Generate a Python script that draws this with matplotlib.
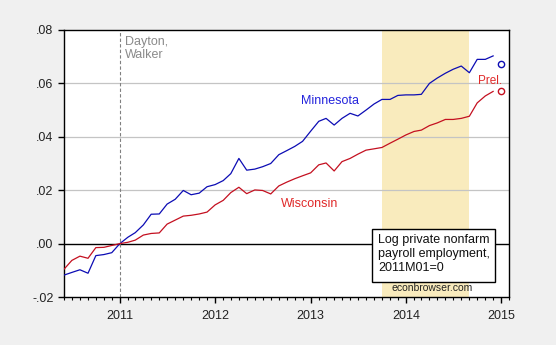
import numpy as np
import pandas as pd
import matplotlib
matplotlib.use("Agg")
import matplotlib.pyplot as plt
import matplotlib.dates as mdates
from matplotlib.patches import Rectangle
from matplotlib.ticker import FuncFormatter

plt.rcParams["font.family"] = ["Liberation Sans", "DejaVu Sans"]

# monthly, 2010M06 .. 2014M12 ; log employment relative to 2011M01
months = pd.date_range("2010-06-01", "2014-12-01", freq="MS")
minnesota = [
    -0.0118, -0.0108, -0.0098, -0.0111, -0.0045, -0.0041, -0.0034, 0.0000,
    0.0024, 0.0041, 0.0070, 0.0110, 0.0111, 0.0148, 0.0166, 0.0199,
    0.0183, 0.0189, 0.0213, 0.0221, 0.0236, 0.0262, 0.0319, 0.0275,
    0.0279, 0.0288, 0.0300, 0.0333, 0.0348, 0.0364, 0.0383, 0.0421,
    0.0458, 0.0469, 0.0444, 0.0469, 0.0488, 0.0478, 0.0500, 0.0523,
    0.0540, 0.0540, 0.0555, 0.0557, 0.0557, 0.0559, 0.0600, 0.0620,
    0.0638, 0.0653, 0.0665, 0.0640, 0.0690, 0.0690, 0.0703,
]
wisconsin = [
    -0.0096, -0.0063, -0.0047, -0.0055, -0.0015, -0.0014, -0.0007, 0.0000,
    0.0005, 0.0013, 0.0032, 0.0038, 0.0040, 0.0073, 0.0088, 0.0103,
    0.0106, 0.0111, 0.0118, 0.0145, 0.0162, 0.0191, 0.0211, 0.0187,
    0.0201, 0.0199, 0.0186, 0.0216, 0.0230, 0.0243, 0.0254, 0.0265,
    0.0295, 0.0302, 0.0272, 0.0307, 0.0319, 0.0335, 0.0350, 0.0355,
    0.0360, 0.0376, 0.0391, 0.0407, 0.0420, 0.0425, 0.0442, 0.0452,
    0.0465, 0.0465, 0.0469, 0.0477, 0.0527, 0.0553, 0.0570,
]
# preliminary 2015M01 values
prel_date = pd.Timestamp("2015-01-01")
prel_mn = 0.0673
prel_wi = 0.0573

shade_start, shade_end = pd.Timestamp("2013-10-01"), pd.Timestamp("2014-09-01")
event_date = pd.Timestamp("2011-01-01")

BLUE_LINE, BLUE_TEXT = "#0c0cb4", "#2424dc"
RED_LINE, RED_TEXT = "#c41020", "#e02a2a"

fig = plt.figure(figsize=(5.56, 3.45), dpi=100)
fig.patch.set_facecolor("#f0f0f0")
ax = fig.add_axes([64 / 556, 1 - 297 / 345, 445.3 / 556, 267 / 345])
ax.set_facecolor("white")

ax.axvspan(shade_start, shade_end, color="#f9ebbd", lw=0, zorder=0)
for yv in (0.02, 0.04, 0.06):
    ax.axhline(yv, color="#c4c4c4", lw=0.9, zorder=1)
ax.axhline(0, color="black", lw=1.0, zorder=2)
ax.axvline(event_date, color="#808080", lw=0.8, ls=(0, (3, 2)), zorder=2)

ax.plot(months, minnesota, color=BLUE_LINE, lw=0.9, zorder=3)
ax.plot(months, wisconsin, color=RED_LINE, lw=0.9, zorder=3)
ax.plot([prel_date], [prel_mn], "o", ms=4.5, mfc="none", mec=BLUE_LINE, mew=1.0, zorder=3)
ax.plot([prel_date], [prel_wi], "o", ms=4.5, mfc="none", mec=RED_LINE, mew=1.0, zorder=3)

ax.set_xlim(pd.Timestamp("2010-06-01"), pd.Timestamp("2015-02-01"))
ax.set_ylim(-0.02, 0.08)

ax.xaxis.set_major_locator(mdates.YearLocator())
ax.xaxis.set_minor_locator(mdates.MonthLocator())
ax.xaxis.set_major_formatter(mdates.DateFormatter("%Y"))
ax.set_yticks([-0.02, 0.0, 0.02, 0.04, 0.06, 0.08])
ax.yaxis.set_major_formatter(FuncFormatter(
    lambda v, p: ("%.2f" % v).replace("0.", ".", 1)))
ax.tick_params(axis="both", which="major", direction="out", length=4,
               width=1.0, labelsize=9, colors="black", labelcolor="#222222")
ax.tick_params(axis="x", which="major", pad=5.5)
ax.tick_params(axis="y", which="major", pad=3.5)
ax.tick_params(axis="x", which="minor", direction="out", length=2.2, width=0.8)
for s in ax.spines.values():
    s.set_linewidth(1.0)
    s.set_color("black")

ax.text(0.137, 0.977, "Dayton,\nWalker", transform=ax.transAxes, ha="left",
        va="top", fontsize=9, color="#8a8a8a", linespacing=1.1)
ax.text(0.597, 0.734, "Minnesota", transform=ax.transAxes, ha="center",
        va="center", fontsize=9, color=BLUE_TEXT)
ax.text(0.552, 0.348, "Wisconsin", transform=ax.transAxes, ha="center",
        va="center", fontsize=9, color=RED_TEXT)
ax.text(0.957, 0.809, "Prel.", transform=ax.transAxes, ha="center",
        va="center", fontsize=8.5, color=RED_TEXT)

ax.add_patch(Rectangle((0.691, 0.055), 0.278, 0.1986, transform=ax.transAxes,
                       facecolor="white", edgecolor="black", lw=1.0, zorder=5))
ax.text(0.705, 0.236, "Log private nonfarm\npayroll employment,\n2011M01=0",
        transform=ax.transAxes, ha="left", va="top", fontsize=9,
        color="#111111", linespacing=1.2, zorder=6)
ax.text(0.826, 0.035, "econbrowser.com", transform=ax.transAxes, ha="center",
        va="center", fontsize=7.5, color="#222222", zorder=6)

fig.savefig("out.png", dpi=100, facecolor=fig.get_facecolor())
